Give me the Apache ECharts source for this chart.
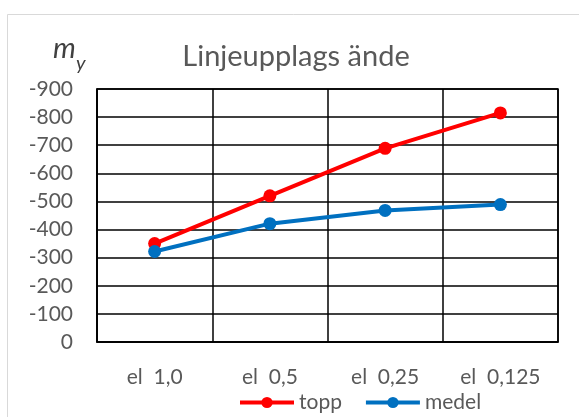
<!DOCTYPE html>
<html>
<head>
<meta charset="utf-8">
<script src="https://cdn.jsdelivr.net/npm/echarts@6/dist/echarts.min.js"></script>
<style>html,body{margin:0;padding:0;background:#fff}#c{width:579px;height:417px}</style>
</head>
<body>
<div id="c"></div>
<script>
const categories = ['el  1,0', 'el  0,5', 'el  0,25', 'el  0,125'];
const toppValues = [-350, -520, -689, -815];
const medelValues = [-322, -421, -468, -489];
const seriesNames = ['topp', 'medel'];
const titleText = 'Linjeupplags ände';

const FONT = 'Lato';
const TXT = '#595959';
const chart = echarts.init(document.getElementById('c'));
chart.setOption({
  backgroundColor: '#fff',
  animation: false,
  textStyle: { fontFamily: FONT },
  graphic: [
    { type: 'rect', shape: { x: 7.5, y: 14.5, width: 600, height: 450 }, style: { fill: 'none', stroke: '#d9d9d9', lineWidth: 1 }, z: -1 },
    { type: 'text', style: { x: 296, y: 57, text: titleText, textAlign: 'center', textVerticalAlign: 'middle', fill: TXT, font: '29px ' + FONT } },
    { type: 'text', style: { x: 53, y: 49, text: 'm', textAlign: 'left', textVerticalAlign: 'middle', fill: '#404040', font: 'italic 29px ' + FONT } },
    { type: 'text', style: { x: 76, y: 64, text: 'y', textAlign: 'left', textVerticalAlign: 'middle', fill: '#404040', font: 'italic 20px ' + FONT } }
  ],
  grid: { left: 97, right: 21, top: 89, bottom: 75, show: true, borderColor: '#000', borderWidth: 1.5, backgroundColor: 'transparent' },
  legend: {
    data: seriesNames,
    left: 233, top: 387,
    itemWidth: 54, itemHeight: 14, itemGap: 22,
    lineStyle: { width: 4 },
    textStyle: { color: TXT, fontSize: 21, fontFamily: FONT }
  },
  xAxis: {
    type: 'category', data: categories, boundaryGap: true,
    axisLine: { lineStyle: { color: '#000', width: 1.5 } },
    axisTick: { show: false },
    splitLine: { show: true, lineStyle: { color: '#000', width: 1.5 } },
    axisLabel: { color: TXT, fontSize: 21, margin: 25, fontFamily: FONT, interval: 0 }
  },
  yAxis: {
    type: 'value', inverse: true, min: -900, max: 0, interval: 100,
    axisLine: { show: true, lineStyle: { color: '#000', width: 1.5 } },
    axisTick: { show: false },
    splitLine: { show: true, lineStyle: { color: '#000', width: 1.5 } },
    axisLabel: { color: TXT, fontSize: 21, margin: 24, fontFamily: FONT }
  },
  series: [
    { name: seriesNames[0], type: 'line', data: toppValues, symbol: 'circle', symbolSize: 13,
      lineStyle: { color: '#ff0000', width: 4 }, itemStyle: { color: '#ff0000' } },
    { name: seriesNames[1], type: 'line', data: medelValues, symbol: 'circle', symbolSize: 13,
      lineStyle: { color: '#0070c0', width: 4 }, itemStyle: { color: '#0070c0' } }
  ]
});
</script>
</body>
</html>
